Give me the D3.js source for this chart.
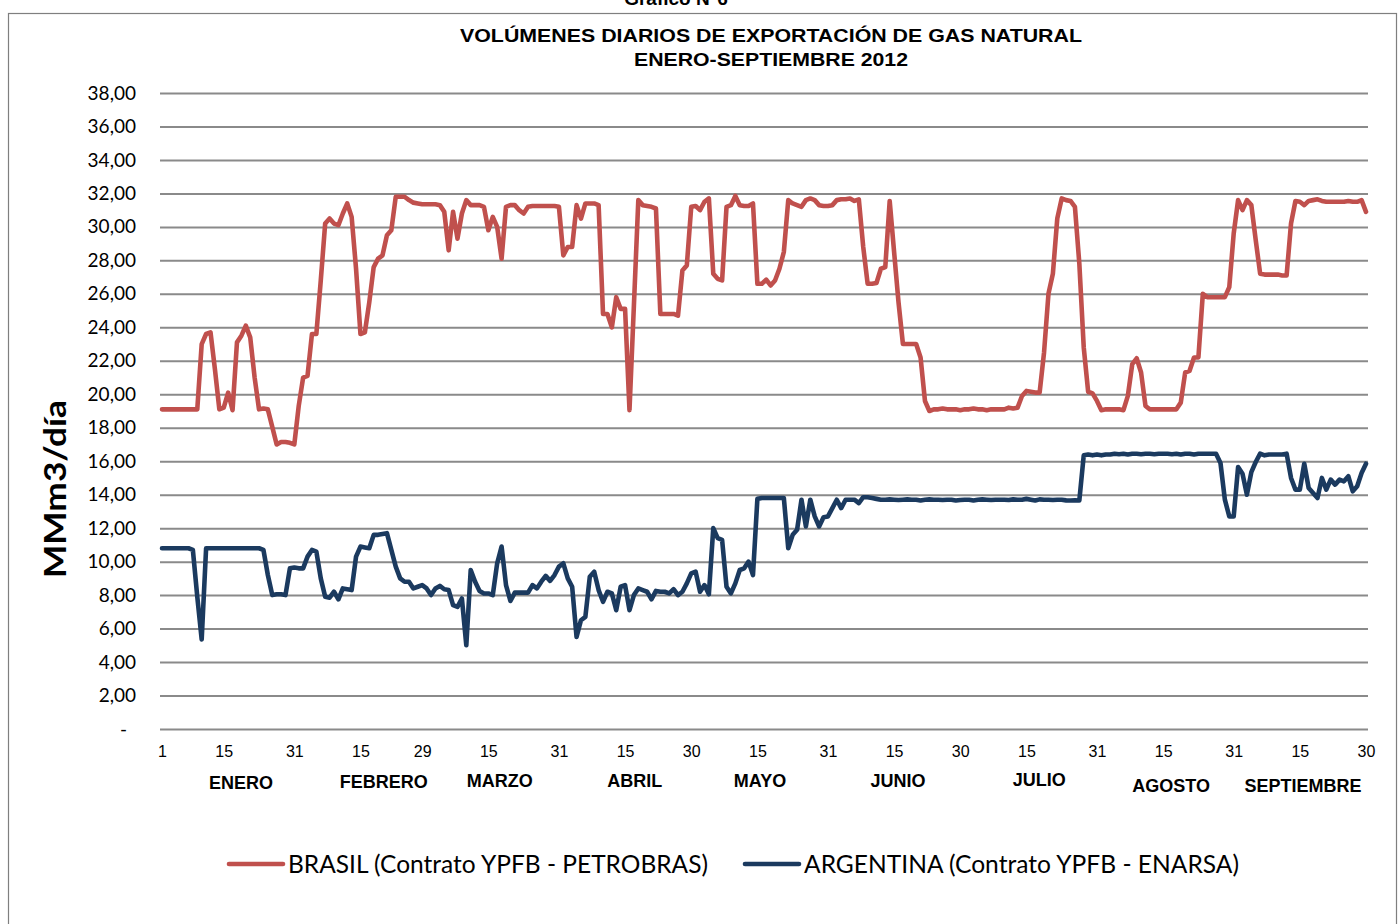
<!DOCTYPE html>
<html>
<head>
<meta charset="utf-8">
<script src="https://cdn.jsdelivr.net/npm/d3@7"></script>
<style>
  body { margin: 0; background: #fff; }
  svg { display: block; }
</style>
</head>
<body>
<svg id="chart" width="1399" height="924"></svg>
<script>
// daily volumes, 1 Jan - 30 Sep 2012 (MMm3/dia)
const brasil = [
  // enero
  19.1,19.1,19.1,19.1,19.1,19.1,19.1,19.1,19.1,23.0,
  23.6,23.7,21.5,19.1,19.2,20.1,19.05,23.1,23.5,24.1,
  23.4,21.0,19.1,19.15,19.1,18.05,17.0,17.15,17.15,17.1,
  17.0,
  // febrero
  19.3,21.0,21.1,23.6,23.6,26.8,30.2,30.5,30.2,30.1,
  30.8,31.4,30.6,27.5,23.6,23.7,25.5,27.6,28.1,28.3,
  29.5,29.8,31.8,31.8,31.8,31.6,31.45,31.4,31.35,
  // marzo
  31.35,31.35,31.35,31.3,30.9,28.6,30.9,29.3,30.8,31.6,
  31.3,31.3,31.3,31.2,29.8,30.6,30.0,28.1,31.2,31.3,
  31.3,31.0,30.8,31.2,31.25,31.25,31.25,31.25,31.25,31.25,
  31.2,
  // abril
  28.3,28.8,28.8,31.3,30.5,31.4,31.4,31.4,31.3,24.8,
  24.8,24.0,25.8,25.1,25.1,19.05,25.3,31.6,31.3,31.25,
  31.2,31.1,24.8,24.8,24.8,24.8,24.7,27.4,27.7,31.2,
  // mayo
  31.25,31.0,31.5,31.7,27.2,26.9,26.8,31.2,31.3,31.85,
  31.3,31.25,31.25,31.4,26.6,26.6,26.85,26.5,26.8,27.5,
  28.5,31.6,31.4,31.3,31.2,31.6,31.7,31.6,31.3,31.25,
  31.25,
  // junio
  31.3,31.6,31.65,31.65,31.7,31.55,31.65,28.8,26.6,26.6,
  26.65,27.5,27.6,31.55,28.5,25.5,23.0,23.0,23.0,23.0,
  22.2,19.6,19.0,19.1,19.1,19.15,19.1,19.1,19.1,19.05,
  // julio
  19.1,19.1,19.15,19.1,19.1,19.05,19.1,19.1,19.1,19.1,
  19.2,19.15,19.2,19.9,20.2,20.15,20.1,20.1,22.5,26.0,
  27.2,30.5,31.7,31.6,31.55,31.2,27.8,22.8,20.15,20.05,
  19.6,
  // agosto
  19.05,19.1,19.1,19.1,19.1,19.05,19.9,21.8,22.15,21.3,
  19.3,19.1,19.1,19.1,19.1,19.1,19.1,19.1,19.5,21.3,
  21.4,22.2,22.2,26.0,25.8,25.8,25.8,25.8,25.8,26.4,
  29.6,
  // septiembre
  31.6,31.0,31.6,31.3,29.2,27.2,27.15,27.15,27.15,27.15,
  27.1,27.1,30.2,31.55,31.5,31.3,31.55,31.6,31.65,31.55,
  31.5,31.5,31.5,31.5,31.5,31.55,31.5,31.5,31.6,30.9
];

const argentina = [
  // enero
  10.8,10.8,10.8,10.8,10.8,10.8,10.8,10.7,7.9,5.35,
  10.8,10.8,10.8,10.8,10.8,10.8,10.8,10.8,10.8,10.8,
  10.8,10.8,10.8,10.7,9.2,8.0,8.05,8.05,8.0,9.6,
  9.65,
  // febrero
  9.6,9.6,10.3,10.7,10.6,9.0,7.9,7.85,8.2,7.75,
  8.4,8.35,8.3,10.3,10.9,10.85,10.8,11.6,11.6,11.65,
  11.7,10.7,9.7,9.0,8.8,8.8,8.4,8.5,8.6,
  // marzo
  8.4,8.0,8.4,8.55,8.35,8.3,7.4,7.3,7.8,5.0,
  9.5,8.8,8.25,8.1,8.1,8.0,9.9,10.9,8.6,7.65,
  8.15,8.15,8.15,8.15,8.6,8.4,8.8,9.15,8.85,9.2,
  9.7,
  // abril
  9.9,9.0,8.5,5.5,6.5,6.7,9.1,9.4,8.3,7.6,
  8.2,8.1,7.1,8.5,8.6,7.1,8.0,8.4,8.3,8.2,
  7.75,8.25,8.2,8.2,8.1,8.35,8.0,8.2,8.7,9.3,
  // mayo
  9.4,8.2,8.6,8.05,12.0,11.4,11.3,8.5,8.1,8.7,
  9.5,9.6,10.0,9.2,13.75,13.8,13.8,13.8,13.8,13.8,
  13.8,10.8,11.6,11.9,13.7,12.1,13.7,12.7,12.1,12.65,
  12.7,
  // junio
  13.2,13.7,13.2,13.7,13.7,13.7,13.5,13.85,13.85,13.8,
  13.75,13.7,13.7,13.72,13.7,13.68,13.7,13.72,13.7,13.7,
  13.65,13.7,13.72,13.7,13.7,13.68,13.7,13.7,13.65,13.68,
  // julio
  13.7,13.7,13.65,13.7,13.72,13.7,13.68,13.7,13.7,13.7,
  13.68,13.72,13.7,13.7,13.75,13.7,13.65,13.72,13.7,13.7,
  13.68,13.7,13.7,13.66,13.65,13.66,13.65,16.35,16.4,16.35,
  16.4,
  // agosto
  16.35,16.4,16.4,16.45,16.42,16.45,16.4,16.45,16.45,16.42,
  16.45,16.45,16.42,16.45,16.45,16.45,16.42,16.45,16.4,16.45,
  16.45,16.4,16.45,16.45,16.45,16.45,16.45,15.9,13.7,12.7,
  12.7,
  // septiembre
  15.65,15.25,14.0,15.35,15.95,16.45,16.35,16.4,16.4,16.4,
  16.4,16.45,15.0,14.3,14.3,15.85,14.4,14.1,13.8,15.0,
  14.3,14.9,14.6,14.9,14.8,15.1,14.2,14.5,15.3,15.85
];

const seriesNames = [
  'BRASIL (Contrato YPFB - PETROBRAS)',
  'ARGENTINA (Contrato YPFB - ENARSA)'
];

// x tick labels: day of month, with the month each belongs to
const tickDays   = [1, 15, 31, 15, 29, 15, 31, 15, 30, 15, 31, 15, 30, 15, 31, 15, 31, 15, 30];
const tickMonths = [0, 0, 0, 1, 1, 2, 2, 3, 3, 4, 4, 5, 5, 6, 6, 7, 7, 8, 8];

const monthNames = ['ENERO', 'FEBRERO', 'MARZO', 'ABRIL', 'MAYO', 'JUNIO', 'JULIO', 'AGOSTO', 'SEPTIEMBRE'];

const yTicks = [0, 2, 4, 6, 8, 10, 12, 14, 16, 18, 20, 22, 24, 26, 28, 30, 32, 34, 36, 38];

// ---------------------------------------------------------------

const days = d3.utcDay.range(new Date(Date.UTC(2012, 0, 1)), new Date(Date.UTC(2012, 9, 1)));
const DAY = 86400000;

const svg = d3.select('#chart');
const plotLeft = 162, plotRight = 1366, plotTop = 93, plotBottom = 729;

const x = d3.scaleUtc()
  .domain([days[0], days[days.length - 1]])
  .range([plotLeft, plotRight]);

const y = d3.scaleLinear()
  .domain([0, 38])
  .range([plotBottom, plotTop]);

svg.append('rect')
  .attr('width', 1399).attr('height', 924)
  .attr('fill', '#fff');

// outer frame
svg.append('rect')
  .attr('x', 8.5).attr('y', 13.5)
  .attr('width', 1388).attr('height', 940)
  .attr('fill', 'none')
  .attr('stroke', '#7f7f7f')
  .attr('stroke-width', 1.2);

// chart number, cut by the top edge as in the source page
svg.append('text')
  .attr('x', 676).attr('y', 5)
  .attr('text-anchor', 'middle')
  .style('font-family', 'Liberation Sans, Arial, sans-serif')
  .style('font-weight', 'bold')
  .style('font-size', '19px')
  .attr('fill', '#000')
  .text('Gráfico N°6');

// titles
const title = svg.append('g')
  .style('font-family', 'Liberation Sans, Arial, sans-serif')
  .style('font-weight', 'bold')
  .style('font-size', '17.5px')
  .attr('fill', '#000');
title.append('text')
  .attr('x', 460).attr('y', 42)
  .attr('textLength', 622).attr('lengthAdjust', 'spacingAndGlyphs')
  .text('VOLÚMENES DIARIOS DE EXPORTACIÓN DE GAS NATURAL');
title.append('text')
  .attr('x', 634).attr('y', 66)
  .attr('textLength', 274).attr('lengthAdjust', 'spacingAndGlyphs')
  .text('ENERO-SEPTIEMBRE 2012');

// y axis with gridlines
const fmt = d3.formatLocale({ decimal: ',', thousands: '.', grouping: [3], currency: ['', ''] }).format(',.2f');

const yAxis = svg.append('g')
  .attr('transform', `translate(${plotLeft - 2},0)`)
  .call(d3.axisLeft(y)
    .tickValues(yTicks)
    .tickSize(-(plotRight - plotLeft + 4))
    .tickPadding(24)
    .tickFormat(d => d === 0 ? '-' : fmt(d)));

yAxis.select('.domain').remove();
yAxis.selectAll('.tick line')
  .attr('stroke', '#8a8a8a')
  .attr('stroke-width', 2);
yAxis.selectAll('.tick text')
  .style('font-family', 'Lato, Calibri, sans-serif')
  .style('font-size', '19px')
  .attr('fill', '#000');
yAxis.selectAll('.tick text')
  .filter(d => d === 0)
  .attr('x', -33);

// x axis labels
const xTickDates = tickDays.map((d, i) => new Date(Date.UTC(2012, tickMonths[i], d)));

const xAxis = svg.append('g')
  .attr('transform', `translate(0,${plotBottom})`)
  .call(d3.axisBottom(x)
    .tickValues(xTickDates)
    .tickSize(0)
    .tickPadding(17)
    .tickFormat(d3.utcFormat('%-d')));

xAxis.select('.domain').remove();
xAxis.selectAll('.tick text')
  .style('font-family', 'Liberation Sans, Arial, sans-serif')
  .style('font-size', '16px')
  .attr('fill', '#000');

// month names under the day ticks
const monthLabelDay = [18.9, 20.3, 17.6, 17.2, 15.6, 15.9, 17.9, 16.8, 15.7];
const monthLabelY = [789, 788, 787, 787, 787, 787, 786, 792, 792];

svg.append('g')
  .selectAll('text')
  .data(monthNames)
  .join('text')
  .attr('x', (m, i) => x(new Date(Date.UTC(2012, i, 1) + (monthLabelDay[i] - 1) * DAY)))
  .attr('y', (m, i) => monthLabelY[i])
  .attr('text-anchor', 'middle')
  .style('font-family', 'Liberation Sans, Arial, sans-serif')
  .style('font-weight', 'bold')
  .style('font-size', '18px')
  .attr('fill', '#000')
  .text(m => m);

// y axis title
svg.append('text')
  .attr('transform', 'translate(66,489) rotate(-90)')
  .attr('text-anchor', 'middle')
  .attr('textLength', 178).attr('lengthAdjust', 'spacingAndGlyphs')
  .style('font-family', 'Lato, Calibri, sans-serif')
  .style('font-weight', 'bold')
  .style('font-size', '30px')
  .attr('fill', '#000')
  .text('MMm3/día');

// series
const series = [
  { name: seriesNames[0], values: brasil, color: '#C0504D' },
  { name: seriesNames[1], values: argentina, color: '#1B3A5F' }
];

const line = d3.line()
  .x((v, i) => x(days[i]))
  .y(v => y(v));

svg.append('g')
  .selectAll('path')
  .data(series)
  .join('path')
  .attr('d', s => line(s.values))
  .attr('fill', 'none')
  .attr('stroke', s => s.color)
  .attr('stroke-width', 4.6)
  .attr('stroke-linejoin', 'round')
  .attr('stroke-linecap', 'round');

// legend
const legendX = [229, 745];
const legendTextLen = [420, 435];

const legend = svg.append('g')
  .selectAll('g')
  .data(series)
  .join('g')
  .attr('transform', (s, i) => `translate(${legendX[i]},864)`);

legend.append('line')
  .attr('x1', 0).attr('x2', 54)
  .attr('stroke', s => s.color)
  .attr('stroke-width', 4.6)
  .attr('stroke-linecap', 'round');

legend.append('text')
  .attr('x', 59).attr('y', 9)
  .attr('textLength', (s, i) => legendTextLen[i])
  .attr('lengthAdjust', 'spacingAndGlyphs')
  .style('font-family', 'Lato, Calibri, sans-serif')
  .style('font-size', '25px')
  .attr('fill', '#000')
  .text(s => s.name);
</script>
</body>
</html>
